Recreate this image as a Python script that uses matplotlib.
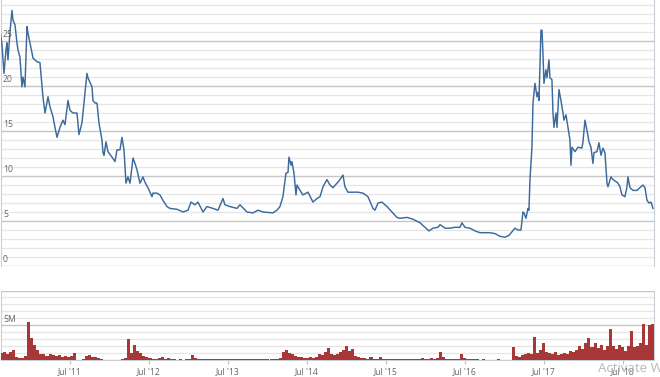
import matplotlib
matplotlib.use("Agg")
import matplotlib.pyplot as plt
import numpy as np
import pandas as pd

# price series: (decimal year, close)
price_years = [
    2010.610, 2010.635, 2010.661, 2010.686, 2010.699, 2010.711, 2010.737, 2010.762, 2010.775, 2010.800,
    2010.825, 2010.838, 2010.863, 2010.888, 2010.901, 2010.926, 2010.952, 2010.964, 2010.990, 2011.015,
    2011.028, 2011.078, 2011.116, 2011.142, 2011.154, 2011.180, 2011.218, 2011.243, 2011.281, 2011.306,
    2011.332, 2011.369, 2011.407, 2011.433, 2011.471, 2011.496, 2011.534, 2011.585, 2011.610, 2011.648,
    2011.673, 2011.711, 2011.724, 2011.775, 2011.787, 2011.813, 2011.838, 2011.863, 2011.901, 2011.914,
    2011.927, 2011.952, 2011.977, 2012.002, 2012.028, 2012.066, 2012.091, 2012.129, 2012.154, 2012.180,
    2012.205, 2012.230, 2012.256, 2012.294, 2012.319, 2012.344, 2012.382, 2012.420, 2012.446, 2012.483,
    2012.534, 2012.547, 2012.597, 2012.635, 2012.673, 2012.724, 2012.762, 2012.851, 2012.927, 2012.990,
    2013.028, 2013.078, 2013.116, 2013.180, 2013.230, 2013.306, 2013.370, 2013.433, 2013.458, 2013.521,
    2013.610, 2013.648, 2013.737, 2013.813, 2013.876, 2013.939, 2014.066, 2014.116, 2014.154, 2014.192,
    2014.230, 2014.256, 2014.268, 2014.294, 2014.306, 2014.332, 2014.357, 2014.370, 2014.408, 2014.445,
    2014.509, 2014.572, 2014.623, 2014.661, 2014.699, 2014.749, 2014.787, 2014.825, 2014.876, 2014.914,
    2014.952, 2014.977, 2015.015, 2015.078, 2015.142, 2015.205, 2015.268, 2015.332, 2015.357, 2015.395,
    2015.445, 2015.509, 2015.572, 2015.635, 2015.673, 2015.762, 2015.838, 2015.927, 2015.990, 2016.040,
    2016.091, 2016.154, 2016.180, 2016.243, 2016.306, 2016.370, 2016.433, 2016.458, 2016.496, 2016.559,
    2016.623, 2016.686, 2016.749, 2016.813, 2016.876, 2016.939, 2017.002, 2017.053, 2017.091, 2017.129,
    2017.167, 2017.205, 2017.230, 2017.243, 2017.268, 2017.294, 2017.306, 2017.319, 2017.344, 2017.357,
    2017.382, 2017.408, 2017.420, 2017.433, 2017.458, 2017.471, 2017.483, 2017.496, 2017.521, 2017.534,
    2017.559, 2017.572, 2017.597, 2017.610, 2017.623, 2017.648, 2017.661, 2017.686, 2017.711, 2017.737,
    2017.749, 2017.775, 2017.800, 2017.825, 2017.838, 2017.851, 2017.889, 2017.927, 2017.977, 2017.990,
    2018.015, 2018.040, 2018.066, 2018.091, 2018.116, 2018.129, 2018.167, 2018.192, 2018.218, 2018.243,
    2018.268, 2018.294, 2018.306, 2018.344, 2018.370, 2018.420, 2018.433, 2018.458, 2018.483, 2018.521,
    2018.547, 2018.559, 2018.585, 2018.623, 2018.673, 2018.711, 2018.749, 2018.775, 2018.800, 2018.825,
    2018.851, 2018.876,
]
price_values = [
    26.2, 24.6, 21.4, 24.0, 24.8, 22.9, 26.0, 28.4, 27.3, 26.8,
    24.8, 24.0, 23.2, 19.9, 21.0, 19.9, 26.6, 25.9, 24.8, 23.7,
    23.1, 22.7, 22.6, 19.9, 18.8, 17.0, 18.8, 17.7, 16.6, 15.4,
    14.3, 15.4, 16.2, 15.7, 18.4, 17.3, 17.0, 17.0, 14.6, 15.9,
    18.1, 21.4, 20.9, 19.9, 18.4, 18.1, 18.1, 15.9, 14.0, 12.6,
    12.3, 13.8, 12.7, 12.4, 12.1, 11.6, 12.9, 12.9, 14.3, 12.9,
    9.2, 9.9, 9.2, 12.0, 11.4, 10.7, 9.2, 9.9, 9.3, 8.7,
    7.7, 8.1, 8.1, 7.9, 7.3, 6.6, 6.4, 6.3, 6.0, 6.2,
    7.1, 6.8, 7.1, 6.0, 6.6, 6.4, 6.2, 7.5, 6.8, 6.6,
    6.4, 6.8, 6.0, 5.9, 6.2, 6.0, 5.9, 6.2, 6.6, 7.7,
    10.3, 10.4, 12.1, 11.2, 11.6, 10.3, 7.9, 9.0, 8.4, 7.9,
    8.2, 7.1, 7.5, 7.7, 8.8, 9.6, 9.0, 8.7, 9.2, 9.6,
    10.1, 8.8, 8.2, 8.2, 8.2, 8.1, 7.7, 6.4, 6.2, 7.0,
    7.1, 6.6, 6.0, 5.4, 5.3, 5.4, 5.2, 4.8, 4.3, 3.9,
    4.2, 4.3, 4.6, 4.2, 4.2, 4.3, 4.3, 4.8, 4.3, 4.2,
    3.9, 3.7, 3.7, 3.7, 3.6, 3.3, 3.2, 3.4, 3.8, 4.2,
    4.0, 4.0, 6.0, 5.9, 5.3, 6.4, 6.2, 9.6, 13.2, 18.1,
    20.3, 18.8, 19.3, 18.4, 26.2, 26.2, 23.7, 20.3, 21.8, 20.9,
    22.9, 20.9, 20.7, 17.0, 15.4, 17.0, 15.4, 19.6, 18.4, 17.0,
    16.2, 16.8, 15.4, 14.0, 11.2, 13.2, 12.7, 13.2, 13.1, 13.8,
    16.2, 15.1, 13.8, 13.2, 11.4, 12.6, 12.7, 13.7, 12.3, 13.1,
    12.6, 9.2, 8.8, 9.9, 9.6, 9.3, 9.2, 8.8, 7.9, 7.7,
    8.8, 9.9, 8.7, 8.4, 8.4, 8.7, 9.0, 8.7, 7.3, 7.0,
    7.1, 6.4,
]

# bi-weekly volume in millions of shares
volume_start = "2010-08-12"
volume_values = [
    1.0, 1.1, 0.9, 1.2, 1.4, 0.5, 0.3, 0.3, 0.6, 5.4,
    3.2, 2.2, 1.4, 0.9, 0.8, 0.6, 0.8, 0.7, 0.6, 0.7,
    0.5, 0.6, 0.5, 0.6, 1.0, 0.05, 0.05, 0.1, 0.6, 0.7,
    0.5, 0.4, 0.3, 0.2, 0.05, 0.05, 0.05, 0.05, 0.05, 0.05,
    0.1, 0.3, 3.0, 1.0, 2.1, 1.3, 1.0, 0.6, 0.5, 0.3,
    0.2, 0.2, 0.3, 0.4, 0.2, 0.3, 0.1, 0.1, 0.05, 0.1,
    0.05, 0.1, 0.2, 0.7, 0.3, 0.2, 0.1, 0.15, 0.1, 0.1,
    0.2, 0.1, 0.2, 0.1, 0.1, 0.1, 0.15, 0.1, 0.1, 0.1,
    0.1, 0.1, 0.15, 0.1, 0.1, 0.15, 0.1, 0.1, 0.1, 0.15,
    0.1, 0.2, 0.3, 1.1, 1.4, 1.0, 0.8, 0.6, 0.5, 0.4,
    0.3, 0.3, 0.5, 0.3, 0.4, 0.9, 0.7, 1.2, 1.7, 0.9,
    0.7, 0.8, 1.1, 1.5, 2.0, 1.3, 1.6, 0.6, 0.4, 0.3,
    0.3, 0.2, 0.4, 0.2, 0.2, 0.4, 0.2, 0.1, 0.15, 0.1,
    0.1, 0.2, 0.1, 0.2, 0.1, 0.15, 0.1, 0.2, 0.1, 0.3,
    0.2, 0.1, 0.3, 0.2, 0.3, 1.2, 0.4, 0.2, 0.2, 0.1,
    0.2, 0.1, 0.9, 0.3, 0.2, 0.1, 0.15, 0.1, 0.05, 0.1,
    0.05, 0.05, 0.05, 0.05, 0.1, 0.05, 0.05, 0.05, 0.05, 1.9,
    0.6, 0.4, 0.7, 0.9, 1.0, 0.9, 3.3, 1.0, 1.4, 2.5,
    1.2, 1.0, 0.9, 1.2, 0.7, 0.9, 1.0, 0.8, 1.3, 1.1,
    1.5, 2.0, 1.6, 2.4, 3.1, 1.8, 2.5, 1.7, 2.2, 1.5,
    2.0, 4.5, 2.0, 1.6, 2.2, 1.8, 1.3, 2.0, 4.2, 1.8,
    2.0, 2.5, 5.2, 2.2, 5.0, 5.1,
]

price_ticks = [0, 5, 10, 15, 20, 25]
volume_ticks = [5]
volume_tick_labels = ["5M"]
month_ticks = [2011, 2012, 2013, 2014, 2015, 2016, 2017, 2018]
month_labels = ["Jul '11", "Jul '12", "Jul '13", "Jul '14", "Jul '15", "Jul '16", "Jul '17", "Jul '18"]

plt.rcParams["font.family"] = ["Open Sans", "DejaVu Sans"]

W, H = 660, 377
fig = plt.figure(figsize=(W / 100, H / 100), dpi=100)
fig.patch.set_facecolor("white")

x_left, x_right = 2010.623, 2018.889
grid_minor = "#e6e6e6"
grid_major = "#c6c6c6"
border = "#c9d0d8"
label_color = "#666666"

ax_price = fig.add_axes([1 / W, (H - 266) / H, 653 / W, 266 / H])
ax_vol = fig.add_axes([1 / W, (H - 360) / H, 653 / W, 69 / H])

# price panel
ax_price.plot(price_years, price_values, color="#3d6a9c", lw=1.05, zorder=3)
ax_price.set_xlim(x_left, x_right)
ax_price.set_ylim(0, 266 / 9)
ax_price.set_yticks(price_ticks)
ax_price.set_yticks(np.arange(0, 30, 1), minor=True)
ax_price.grid(which="minor", axis="y", color=grid_minor, lw=0.9)
ax_price.grid(which="major", axis="y", color=grid_major, lw=1.0)
ax_price.tick_params(which="both", left=False, bottom=False, labelleft=False, labelbottom=False)
for name, spine in ax_price.spines.items():
    spine.set_visible(name in ("left", "right"))
    spine.set_color(border)
for value in price_ticks:
    ax_price.text(2 / 653, value + 0.2, str(value), transform=ax_price.get_yaxis_transform(),
                  ha="left", va="bottom", fontsize=6.2, color=label_color)

# volume panel
vol_dates = pd.date_range(volume_start, periods=len(volume_values), freq="14D")
vol_years = vol_dates.year + (vol_dates.dayofyear - 1) / 365.25
ax_vol.bar(vol_years, volume_values, width=14 / 365.25, color="#a83838", edgecolor="none",
           align="edge", zorder=3)
ax_vol.set_xlim(x_left, x_right)
ax_vol.set_ylim(0, 69 / 7)
ax_vol.set_yticks([0, 5])
ax_vol.set_yticks(np.arange(0, 10, 1), minor=True)
ax_vol.grid(which="minor", axis="y", color=grid_minor, lw=0.9)
ax_vol.grid(which="major", axis="y", color=grid_major, lw=1.0)
ax_vol.axhline(69 / 7, color=grid_major, lw=1.0)
ax_vol.tick_params(which="both", left=False, labelleft=False)
ax_vol.set_xticks([y + 0.496 for y in month_ticks])
ax_vol.set_xticklabels(month_labels)
ax_vol.tick_params(axis="x", length=3, width=0.8, color="#c0c0c0", pad=2,
                   labelsize=6.2, labelcolor=label_color)
for name, spine in ax_vol.spines.items():
    spine.set_visible(name in ("left", "right", "bottom"))
    spine.set_color(border)
for value, label in zip(volume_ticks, volume_tick_labels):
    ax_vol.text(2 / 653, value + 0.2, label, transform=ax_vol.get_yaxis_transform(),
                ha="left", va="bottom", fontsize=6.2, color=label_color)

fig.text(598 / W, 1 - 369 / H, "Activate W", fontsize=9.5, color="#b8b8b8",
         ha="left", va="center")

fig.savefig("out.png", dpi=100)
plt.close(fig)
